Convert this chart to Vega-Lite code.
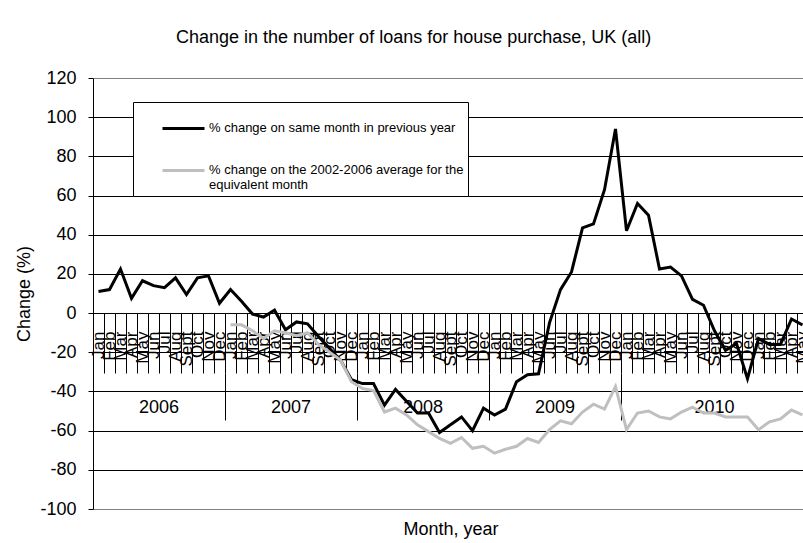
{
  "$schema": "https://vega.github.io/schema/vega-lite/v6.json",
  "width": 710,
  "height": 431,
  "autosize": {"type": "none"},
  "padding": {"left": 93, "top": 78, "right": 0, "bottom": 34},
  "background": "white",
  "config": {
    "view": {"stroke": null},
    "font": "Liberation Sans",
    "axis": {"labelFont": "Liberation Sans", "titleFont": "Liberation Sans", "labelColor": "#000", "titleColor": "#000", "titleFontWeight": "normal"}
  },
  "title": {
    "text": "Change in the number of loans for house purchase, UK (all)",
    "anchor": "start", "frame": "group", "dx": 83, "offset": 22,
    "fontSize": 18, "fontWeight": "normal", "font": "Liberation Sans", "color": "#000"
  },
  "datasets": {
    "prev": [
      {"month": "2006-01", "series": "% change on same month in previous year", "value": 11},
      {"month": "2006-02", "series": "% change on same month in previous year", "value": 12},
      {"month": "2006-03", "series": "% change on same month in previous year", "value": 22.5},
      {"month": "2006-04", "series": "% change on same month in previous year", "value": 7.5},
      {"month": "2006-05", "series": "% change on same month in previous year", "value": 16.5},
      {"month": "2006-06", "series": "% change on same month in previous year", "value": 14},
      {"month": "2006-07", "series": "% change on same month in previous year", "value": 13},
      {"month": "2006-08", "series": "% change on same month in previous year", "value": 18},
      {"month": "2006-09", "series": "% change on same month in previous year", "value": 9.5},
      {"month": "2006-10", "series": "% change on same month in previous year", "value": 18},
      {"month": "2006-11", "series": "% change on same month in previous year", "value": 19},
      {"month": "2006-12", "series": "% change on same month in previous year", "value": 5},
      {"month": "2007-01", "series": "% change on same month in previous year", "value": 12},
      {"month": "2007-02", "series": "% change on same month in previous year", "value": 6},
      {"month": "2007-03", "series": "% change on same month in previous year", "value": -0.5},
      {"month": "2007-04", "series": "% change on same month in previous year", "value": -2},
      {"month": "2007-05", "series": "% change on same month in previous year", "value": 1.5},
      {"month": "2007-06", "series": "% change on same month in previous year", "value": -8.5},
      {"month": "2007-07", "series": "% change on same month in previous year", "value": -4.5},
      {"month": "2007-08", "series": "% change on same month in previous year", "value": -5.5},
      {"month": "2007-09", "series": "% change on same month in previous year", "value": -12},
      {"month": "2007-10", "series": "% change on same month in previous year", "value": -18},
      {"month": "2007-11", "series": "% change on same month in previous year", "value": -24},
      {"month": "2007-12", "series": "% change on same month in previous year", "value": -34},
      {"month": "2008-01", "series": "% change on same month in previous year", "value": -36},
      {"month": "2008-02", "series": "% change on same month in previous year", "value": -36},
      {"month": "2008-03", "series": "% change on same month in previous year", "value": -47},
      {"month": "2008-04", "series": "% change on same month in previous year", "value": -39},
      {"month": "2008-05", "series": "% change on same month in previous year", "value": -45},
      {"month": "2008-06", "series": "% change on same month in previous year", "value": -51},
      {"month": "2008-07", "series": "% change on same month in previous year", "value": -51},
      {"month": "2008-08", "series": "% change on same month in previous year", "value": -61},
      {"month": "2008-09", "series": "% change on same month in previous year", "value": -57},
      {"month": "2008-10", "series": "% change on same month in previous year", "value": -53},
      {"month": "2008-11", "series": "% change on same month in previous year", "value": -60},
      {"month": "2008-12", "series": "% change on same month in previous year", "value": -48.5},
      {"month": "2009-01", "series": "% change on same month in previous year", "value": -52},
      {"month": "2009-02", "series": "% change on same month in previous year", "value": -49},
      {"month": "2009-03", "series": "% change on same month in previous year", "value": -35},
      {"month": "2009-04", "series": "% change on same month in previous year", "value": -31.5},
      {"month": "2009-05", "series": "% change on same month in previous year", "value": -31},
      {"month": "2009-06", "series": "% change on same month in previous year", "value": -5},
      {"month": "2009-07", "series": "% change on same month in previous year", "value": 12},
      {"month": "2009-08", "series": "% change on same month in previous year", "value": 21},
      {"month": "2009-09", "series": "% change on same month in previous year", "value": 43.5},
      {"month": "2009-10", "series": "% change on same month in previous year", "value": 45.5},
      {"month": "2009-11", "series": "% change on same month in previous year", "value": 63},
      {"month": "2009-12", "series": "% change on same month in previous year", "value": 94},
      {"month": "2010-01", "series": "% change on same month in previous year", "value": 42},
      {"month": "2010-02", "series": "% change on same month in previous year", "value": 56},
      {"month": "2010-03", "series": "% change on same month in previous year", "value": 50},
      {"month": "2010-04", "series": "% change on same month in previous year", "value": 22.5},
      {"month": "2010-05", "series": "% change on same month in previous year", "value": 23.5},
      {"month": "2010-06", "series": "% change on same month in previous year", "value": 19},
      {"month": "2010-07", "series": "% change on same month in previous year", "value": 7},
      {"month": "2010-08", "series": "% change on same month in previous year", "value": 4},
      {"month": "2010-09", "series": "% change on same month in previous year", "value": -9},
      {"month": "2010-10", "series": "% change on same month in previous year", "value": -19},
      {"month": "2010-11", "series": "% change on same month in previous year", "value": -15.5},
      {"month": "2010-12", "series": "% change on same month in previous year", "value": -33.5},
      {"month": "2011-01", "series": "% change on same month in previous year", "value": -13},
      {"month": "2011-02", "series": "% change on same month in previous year", "value": -16},
      {"month": "2011-03", "series": "% change on same month in previous year", "value": -16},
      {"month": "2011-04", "series": "% change on same month in previous year", "value": -3},
      {"month": "2011-05", "series": "% change on same month in previous year", "value": -6}
    ],
    "avg": [
      {"month": "2007-01", "series": "% change on the 2002-2006 average for the equivalent month", "value": -6},
      {"month": "2007-02", "series": "% change on the 2002-2006 average for the equivalent month", "value": -6},
      {"month": "2007-03", "series": "% change on the 2002-2006 average for the equivalent month", "value": -9},
      {"month": "2007-04", "series": "% change on the 2002-2006 average for the equivalent month", "value": -13},
      {"month": "2007-05", "series": "% change on the 2002-2006 average for the equivalent month", "value": -9},
      {"month": "2007-06", "series": "% change on the 2002-2006 average for the equivalent month", "value": -10},
      {"month": "2007-07", "series": "% change on the 2002-2006 average for the equivalent month", "value": -11.5},
      {"month": "2007-08", "series": "% change on the 2002-2006 average for the equivalent month", "value": -10},
      {"month": "2007-09", "series": "% change on the 2002-2006 average for the equivalent month", "value": -16},
      {"month": "2007-10", "series": "% change on the 2002-2006 average for the equivalent month", "value": -20},
      {"month": "2007-11", "series": "% change on the 2002-2006 average for the equivalent month", "value": -24},
      {"month": "2007-12", "series": "% change on the 2002-2006 average for the equivalent month", "value": -35},
      {"month": "2008-01", "series": "% change on the 2002-2006 average for the equivalent month", "value": -38.5},
      {"month": "2008-02", "series": "% change on the 2002-2006 average for the equivalent month", "value": -39.5},
      {"month": "2008-03", "series": "% change on the 2002-2006 average for the equivalent month", "value": -50.5},
      {"month": "2008-04", "series": "% change on the 2002-2006 average for the equivalent month", "value": -48.5},
      {"month": "2008-05", "series": "% change on the 2002-2006 average for the equivalent month", "value": -52},
      {"month": "2008-06", "series": "% change on the 2002-2006 average for the equivalent month", "value": -57},
      {"month": "2008-07", "series": "% change on the 2002-2006 average for the equivalent month", "value": -60.5},
      {"month": "2008-08", "series": "% change on the 2002-2006 average for the equivalent month", "value": -64},
      {"month": "2008-09", "series": "% change on the 2002-2006 average for the equivalent month", "value": -66.5},
      {"month": "2008-10", "series": "% change on the 2002-2006 average for the equivalent month", "value": -63.5},
      {"month": "2008-11", "series": "% change on the 2002-2006 average for the equivalent month", "value": -69},
      {"month": "2008-12", "series": "% change on the 2002-2006 average for the equivalent month", "value": -68},
      {"month": "2009-01", "series": "% change on the 2002-2006 average for the equivalent month", "value": -71.5},
      {"month": "2009-02", "series": "% change on the 2002-2006 average for the equivalent month", "value": -69.5},
      {"month": "2009-03", "series": "% change on the 2002-2006 average for the equivalent month", "value": -68},
      {"month": "2009-04", "series": "% change on the 2002-2006 average for the equivalent month", "value": -64},
      {"month": "2009-05", "series": "% change on the 2002-2006 average for the equivalent month", "value": -66},
      {"month": "2009-06", "series": "% change on the 2002-2006 average for the equivalent month", "value": -59.5},
      {"month": "2009-07", "series": "% change on the 2002-2006 average for the equivalent month", "value": -55},
      {"month": "2009-08", "series": "% change on the 2002-2006 average for the equivalent month", "value": -56.5},
      {"month": "2009-09", "series": "% change on the 2002-2006 average for the equivalent month", "value": -50.5},
      {"month": "2009-10", "series": "% change on the 2002-2006 average for the equivalent month", "value": -46.5},
      {"month": "2009-11", "series": "% change on the 2002-2006 average for the equivalent month", "value": -49},
      {"month": "2009-12", "series": "% change on the 2002-2006 average for the equivalent month", "value": -37.5},
      {"month": "2010-01", "series": "% change on the 2002-2006 average for the equivalent month", "value": -59.5},
      {"month": "2010-02", "series": "% change on the 2002-2006 average for the equivalent month", "value": -51},
      {"month": "2010-03", "series": "% change on the 2002-2006 average for the equivalent month", "value": -50},
      {"month": "2010-04", "series": "% change on the 2002-2006 average for the equivalent month", "value": -53},
      {"month": "2010-05", "series": "% change on the 2002-2006 average for the equivalent month", "value": -54},
      {"month": "2010-06", "series": "% change on the 2002-2006 average for the equivalent month", "value": -50.5},
      {"month": "2010-07", "series": "% change on the 2002-2006 average for the equivalent month", "value": -48},
      {"month": "2010-08", "series": "% change on the 2002-2006 average for the equivalent month", "value": -51},
      {"month": "2010-09", "series": "% change on the 2002-2006 average for the equivalent month", "value": -51},
      {"month": "2010-10", "series": "% change on the 2002-2006 average for the equivalent month", "value": -53},
      {"month": "2010-11", "series": "% change on the 2002-2006 average for the equivalent month", "value": -53},
      {"month": "2010-12", "series": "% change on the 2002-2006 average for the equivalent month", "value": -53},
      {"month": "2011-01", "series": "% change on the 2002-2006 average for the equivalent month", "value": -59.5},
      {"month": "2011-02", "series": "% change on the 2002-2006 average for the equivalent month", "value": -55.5},
      {"month": "2011-03", "series": "% change on the 2002-2006 average for the equivalent month", "value": -54},
      {"month": "2011-04", "series": "% change on the 2002-2006 average for the equivalent month", "value": -49.5},
      {"month": "2011-05", "series": "% change on the 2002-2006 average for the equivalent month", "value": -52}
    ]
  },
  "encoding": {
    "y": {
      "field": "value", "type": "quantitative",
      "scale": {"domain": [-100, 120], "nice": false, "zero": false},
      "axis": {
        "values": [-100, -80, -60, -40, -20, 0, 20, 40, 60, 80, 100, 120],
        "labelExpr": "'' + datum.value",
        "title": "Change (%)", "titleFontSize": 18, "titlePadding": 6,
        "labelFontSize": 18, "labelPadding": 12, "tickSize": 5, "tickColor": "#000",
        "domainColor": "#000", "grid": true, "gridWidth": 1,
        "gridColor": {"condition": {"test": "datum.value == 120 || datum.value == -100", "value": "#808080"}, "value": "#000"}
      }
    },
    "color": {
      "field": "series", "type": "nominal",
      "scale": {
        "domain": ["% change on same month in previous year", "% change on the 2002-2006 average for the equivalent month"],
        "range": ["#000000", "#bfbfbf"]
      },
      "legend": {
        "title": null, "orient": "none", "legendX": 40, "legendY": 24, "direction": "vertical",
        "fillColor": "#ffffff", "strokeColor": "#000000", "padding": 4,
        "symbolType": "stroke", "symbolSize": 1764, "symbolStrokeWidth": 3, "symbolOffset": 24,
        "labelFont": "Liberation Sans", "labelFontSize": 13, "labelColor": "#000", "labelOffset": 3, "labelLimit": 500,
        "labelBaseline": "top", "rowPadding": 13,
        "labelExpr": "indexof(datum.label, '2002') >= 0 ? ['% change on the 2002-2006 average for the', 'equivalent month'] : datum.label",
        "encode": {
          "labels": {"update": {"dy": {"value": -7}}},
          "entries": {"update": {"width": {"value": 364}, "height": {"value": 30}, "fill": {"value": "#ffffff"}}}
        }
      }
    }
  },
  "layer": [
    {
      "data": {"name": "prev"},
      "mark": {"type": "line", "strokeWidth": 3},
      "encoding": {
        "x": {
          "field": "month", "type": "ordinal",
          "scale": {
            "type": "band", "paddingInner": 0, "paddingOuter": 0, "range": [0, 715],
            "domain": ["2006-01","2006-02","2006-03","2006-04","2006-05","2006-06","2006-07","2006-08","2006-09","2006-10","2006-11","2006-12","2007-01","2007-02","2007-03","2007-04","2007-05","2007-06","2007-07","2007-08","2007-09","2007-10","2007-11","2007-12","2008-01","2008-02","2008-03","2008-04","2008-05","2008-06","2008-07","2008-08","2008-09","2008-10","2008-11","2008-12","2009-01","2009-02","2009-03","2009-04","2009-05","2009-06","2009-07","2009-08","2009-09","2009-10","2009-11","2009-12","2010-01","2010-02","2010-03","2010-04","2010-05","2010-06","2010-07","2010-08","2010-09","2010-10","2010-11","2010-12","2011-01","2011-02","2011-03","2011-04","2011-05"]
          },
          "axis": {
            "orient": "bottom", "offset": -196, "title": null, "grid": false,
            "tickBand": "extent", "tickSize": 60, "tickColor": "#000", "domainColor": "#000",
            "labelAngle": 270, "labelPadding": -42, "labelFontSize": 17,
            "labelOverlap": false, "labelBound": false,
            "labelExpr": "['Jan','Feb','Mar','Apr','May','Jun','Jul','Aug','Sept','Oct','Nov','Dec'][toNumber(substring(datum.value, 5, 7)) - 1]"
          }
        }
      }
    },
    {
      "data": {"name": "avg"},
      "mark": {"type": "line", "strokeWidth": 3},
      "encoding": {
        "x": {
          "field": "month", "type": "ordinal",
          "axis": {
            "orient": "bottom", "offset": -136, "title": "Month, year", "titleFontSize": 18, "titlePadding": 100,
            "grid": false, "domain": false,
            "values": ["2006-12","2007-12","2008-12","2009-12","2006-07","2007-07","2008-07","2009-07","2010-09"],
            "bandPosition": 1, "tickExtra": false, "tickSize": 47, "tickColor": "#000",
            "tickOpacity": {"condition": {"test": "substring(datum.value, 5, 7) == '12'", "value": 1}, "value": 0},
            "labelAngle": 0, "labelFontSize": 18, "labelPadding": -22, "labelBaseline": "top",
            "labelOverlap": false, "labelBound": false,
            "labelOffset": {"condition": {"test": "substring(datum.value, 5, 7) == '07'", "value": -5.5}, "value": 0},
            "labelExpr": "substring(datum.value, 5, 7) == '12' ? '' : substring(datum.value, 0, 4)"
          }
        }
      }
    }
  ],
  "resolve": {"axis": {"x": "independent"}}
}
